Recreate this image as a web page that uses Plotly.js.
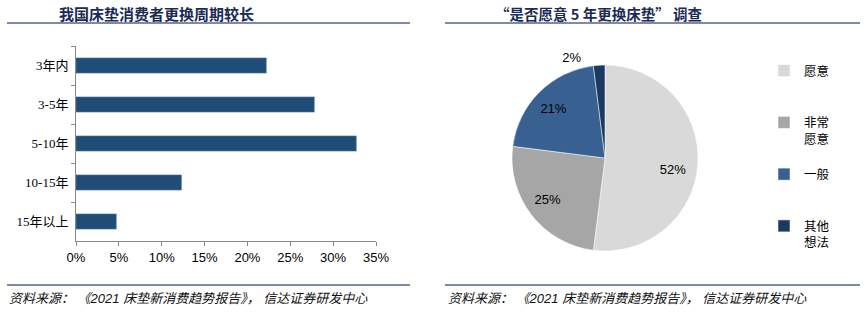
<!DOCTYPE html>
<html>
<head>
<meta charset="utf-8">
<script src="https://cdn.plot.ly/plotly-3.0.1.min.js"></script>
<style>html,body{margin:0;padding:0;background:#fff;}#chart{width:866px;height:312px;}</style>
</head>
<body>
<div id="chart"></div>
<script>
// ---- data ----
const barCategories = ['3年内', '3-5年', '5-10年', '10-15年', '15年以上'];
const barValues = [22.2, 27.8, 32.7, 12.3, 4.7];
const xTickValues = [0, 5, 10, 15, 20, 25, 30, 35];
const xTickLabels = ['0%', '5%', '10%', '15%', '20%', '25%', '30%', '35%'];

const pieLabels = ['愿意', '非常<br>愿意', '一般', '其他<br>想法'];
const pieValues = [52, 25, 21, 2];
const pieTexts = ['52%', '25%', '21%', '2%'];

const leftTitle = '我国床垫消费者更换周期较长';
const rightTitle = '“是否愿意 5 年更换床垫” 调查';
const sourceText = '资料来源： 《2021 床垫新消费趋势报告》， 信达证券研发中心';

// ---- layout helpers ----
const W = 866, H = 312;
const px = v => v / W;
const py = v => 1 - v / H;

const serif = '"Liberation Serif", "Noto Sans CJK SC", serif';
const sans = 'Arial, "Liberation Sans", "Noto Sans CJK SC", sans-serif';
const navy = '#1b2a57';
const NB = '\u00a0';

// pad legend labels so each entry occupies three lines (even vertical spacing)
const legendLabels = pieLabels.map(l => {
  const n = l.split('<br>').length;
  let s = l;
  for (let i = n; i < 3; i++) s += '<br>' + NB;
  return s;
});

// label placement style: [leading nbsp, trailing nbsp, blank line above, blank line below]
const labelPad = [[12, 0, 1, 0], [0, 8, 1, 0], [0, 6, 0, 1], [0, 4, 0, 0]];
const pieDisplayText = pieTexts.map((t, i) => {
  const p = labelPad[i];
  let s = NB.repeat(p[0]) + t + NB.repeat(p[1]);
  if (p[2]) s = NB + '<br>' + s;
  if (p[3]) s = s + '<br>' + NB;
  return s;
});

const traces = [
  {
    type: 'bar',
    orientation: 'h',
    y: barCategories,
    x: barValues,
    marker: {color: '#204d78', line: {color: '#5a7ea3', width: 0.6}},
    xaxis: 'x', yaxis: 'y',
    showlegend: false,
    hoverinfo: 'x+y'
  },
  {
    type: 'pie',
    labels: legendLabels,
    values: pieValues,
    text: pieDisplayText,
    textinfo: 'text',
    textposition: ['inside', 'inside', 'inside', 'outside'],
    insidetextorientation: 'horizontal',
    sort: false,
    direction: 'clockwise',
    rotation: 0,
    marker: {colors: ['#d9d9d9', '#a6a6a6', '#386192', '#1b3a62'], line: {color: '#ffffff', width: 0.5}},
    textfont: {family: sans, size: 13, color: '#000'},
    outsidetextfont: {family: sans, size: 13, color: '#000'},
    domain: {x: [px(512), px(698)], y: [py(251), py(65)]},
    showlegend: true
  }
];

const layout = {
  width: W, height: H,
  margin: {l: 0, r: 0, t: 0, b: 0},
  paper_bgcolor: '#fff',
  plot_bgcolor: '#fff',
  bargap: 0.61,
  xaxis: {
    domain: [px(76), px(376)],
    range: [0, 35],
    tickvals: xTickValues,
    ticktext: xTickLabels,
    ticks: 'outside', ticklen: 4, tickcolor: '#888',
    showline: true, linecolor: '#888', linewidth: 1,
    showgrid: false, zeroline: false,
    tickfont: {family: sans, size: 13, color: '#000'},
    anchor: 'y'
  },
  yaxis: {
    domain: [py(241), py(46)],
    autorange: 'reversed',
    ticks: 'outside', ticklen: 4, tickcolor: '#888',
    tickson: 'boundaries',
    showline: true, linecolor: '#888', linewidth: 1,
    showgrid: false, zeroline: false,
    tickfont: {family: serif, size: 13, color: '#000'},
    ticklabelstandoff: 4,
    anchor: 'x'
  },
  legend: {
    x: px(764), y: py(56), xanchor: 'left', yanchor: 'top',
    valign: 'top',
    font: {family: serif, size: 12.5, color: '#000'},
    itemwidth: 30,
    bgcolor: 'rgba(0,0,0,0)',
    traceorder: 'normal'
  },
  shapes: [
    {type: 'line', xref: 'paper', yref: 'paper', x0: px(7), x1: px(410), y0: py(23), y1: py(23), line: {color: '#7d8aa8', width: 2}},
    {type: 'line', xref: 'paper', yref: 'paper', x0: px(445), x1: px(860), y0: py(23), y1: py(23), line: {color: '#7d8aa8', width: 2}},
    {type: 'line', xref: 'paper', yref: 'paper', x0: px(7), x1: px(410), y0: py(285), y1: py(285), line: {color: '#7d8aa8', width: 2}},
    {type: 'line', xref: 'paper', yref: 'paper', x0: px(445), x1: px(860), y0: py(285), y1: py(285), line: {color: '#7d8aa8', width: 2}}
  ],
  annotations: [
    {text: '<b>' + leftTitle + '</b>', xref: 'paper', yref: 'paper', x: px(57), y: py(14), xanchor: 'left', yanchor: 'middle', showarrow: false, font: {family: '"Noto Sans CJK SC", serif', size: 15, color: navy}},
    {text: '<b>' + rightTitle + '</b>', xref: 'paper', yref: 'paper', x: px(493), y: py(14), xanchor: 'left', yanchor: 'middle', showarrow: false, font: {family: '"Noto Sans CJK SC", serif', size: 14.5, color: navy}},
    {text: '<i>' + sourceText + '</i>', xref: 'paper', yref: 'paper', x: px(7), y: py(298), xanchor: 'left', yanchor: 'middle', showarrow: false, font: {family: sans, size: 13, color: '#111'}},
    {text: '<i>' + sourceText + '</i>', xref: 'paper', yref: 'paper', x: px(446), y: py(298), xanchor: 'left', yanchor: 'middle', showarrow: false, font: {family: sans, size: 13, color: '#111'}}
  ]
};

Plotly.newPlot('chart', traces, layout, {displayModeBar: false, staticPlot: true});
</script>
</body>
</html>
